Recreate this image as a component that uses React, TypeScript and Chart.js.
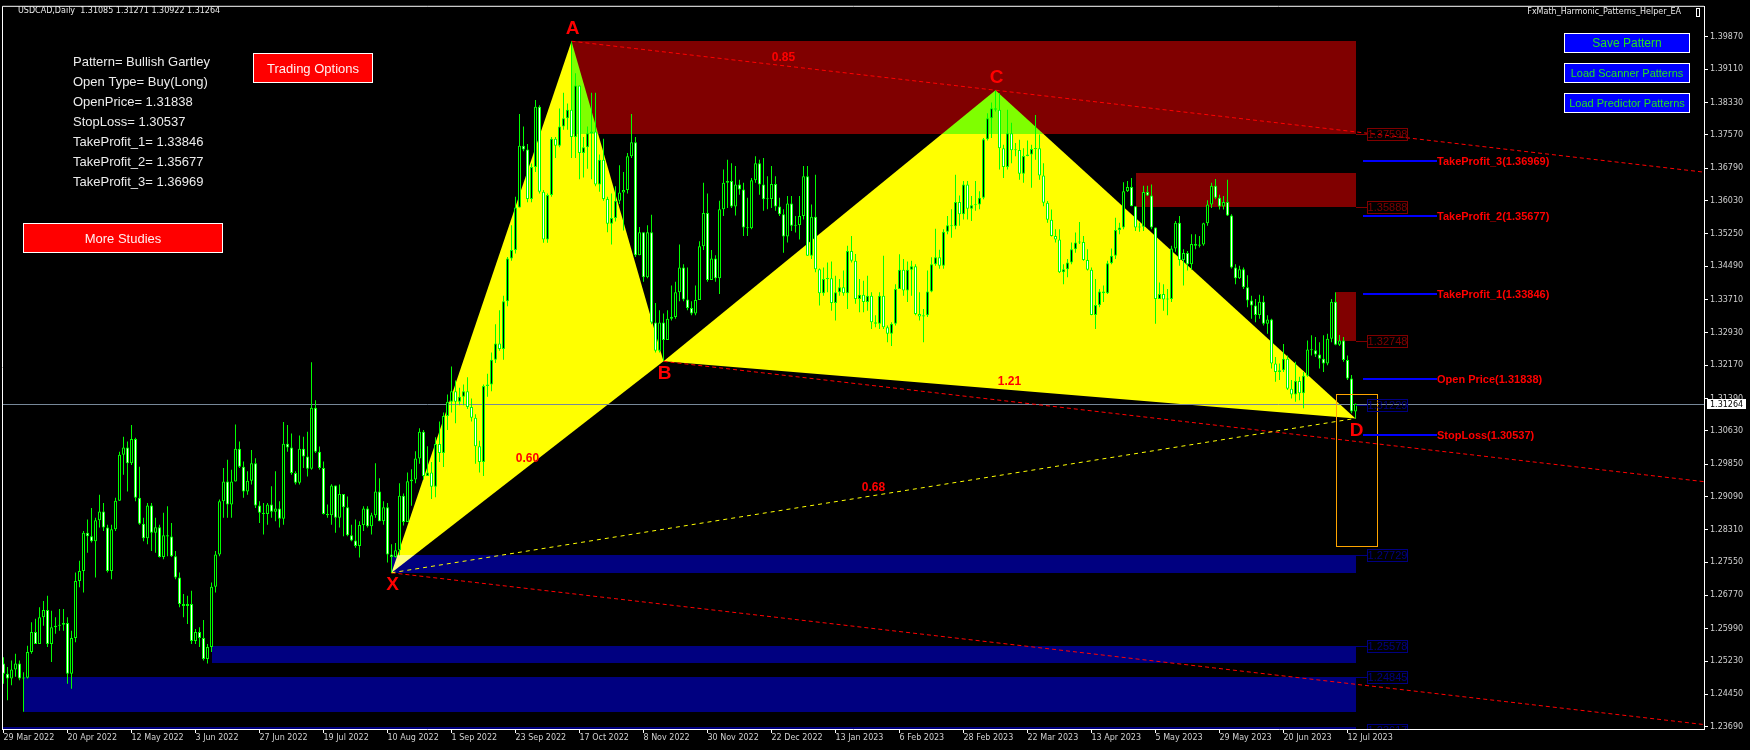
import React, { useEffect, useRef } from 'react';
import { Chart, registerables } from 'chart.js';

Chart.register(...registerables);

// ---------------- DATA ----------------
const SYMBOL = 'USDCAD,Daily';
const EA_NAME = 'FxMath_Harmonic_Patterns_Helper_EA';
const FIRST_OPEN = 1.2517;

const CLOSES = [
  1.2493,1.2482,1.2503,1.2517,1.2482,1.2484,1.2544,1.2591,1.2563,1.2626,
  1.2643,1.2563,1.2602,1.2606,1.2608,1.2612,1.2493,1.2577,1.2711,1.2734,
  1.2824,1.2816,1.2804,1.2853,1.2874,1.2836,1.2734,1.2832,1.2899,1.3007,
  1.3024,1.2987,1.3044,1.2906,1.2845,1.2811,1.2888,1.2824,1.2837,1.2767,
  1.2818,1.2815,1.2769,1.2719,1.2657,1.2652,1.2657,1.2570,1.2591,1.2577,
  1.2528,1.2556,1.2697,1.2773,1.2898,1.2944,1.2890,1.2944,1.3021,1.2979,
  1.2921,1.2946,1.2987,1.2888,1.2871,1.2868,1.2890,1.2873,1.2881,1.2857,
  1.3033,1.3024,1.2964,1.2941,1.3021,1.3003,1.2974,1.3117,1.3014,1.2976,
  1.2868,1.2865,1.2935,1.2859,1.2915,1.2884,1.2818,1.2806,1.2793,1.2842,
  1.2881,1.2839,1.2865,1.2921,1.2851,1.2884,1.2773,1.2767,1.2783,1.2911,
  1.2849,1.2945,1.2949,1.2998,1.3061,1.2957,1.2965,1.2932,1.3032,1.3011,
  1.3098,1.3131,1.3156,1.3131,1.3143,1.3156,1.3119,1.3094,1.3027,1.2990,
  1.3168,1.3172,1.3230,1.3268,1.3255,1.3367,1.3467,1.3487,1.3587,1.3732,
  1.3723,1.3607,1.3682,1.3823,1.3624,1.3512,1.3616,1.3748,1.3732,1.3777,
  1.3796,1.3816,1.3752,1.3873,1.3715,1.3728,1.3761,1.3765,1.3641,1.3699,
  1.3607,1.3549,1.3562,1.3603,1.3622,1.3628,1.3707,1.3740,1.3475,1.3529,
  1.3423,1.3529,1.3317,1.3251,1.3317,1.3276,1.3326,1.3330,1.3388,1.3446,
  1.3371,1.3351,1.3338,1.3370,1.3496,1.3574,1.3417,1.3467,1.3421,1.3583,
  1.3645,1.3649,1.3589,1.3641,1.3629,1.3540,1.3538,1.3651,1.3691,1.3641,
  1.3606,1.3607,1.3642,1.3589,1.3571,1.3519,1.3596,1.3544,1.3546,1.3567,
  1.3660,1.3474,1.3565,1.3442,1.3386,1.3419,1.3421,1.3363,1.3388,1.3400,
  1.3386,1.3485,1.3462,1.3372,1.3382,1.3365,1.3380,1.3318,1.3314,1.3380,
  1.3306,1.3291,1.3314,1.3396,1.3441,1.3392,1.3441,1.3449,1.3337,1.3331,
  1.3334,1.3390,1.3454,1.3470,1.3450,1.3530,1.3545,1.3543,1.3600,1.3571,
  1.3641,1.3584,1.3592,1.3594,1.3610,1.3747,1.3796,1.3820,1.3816,1.3726,
  1.3682,1.3761,1.3721,1.3722,1.3666,1.3708,1.3711,1.3724,1.3726,1.3662,
  1.3598,1.3558,1.3520,1.3512,1.3435,1.3442,1.3458,1.3489,1.3505,1.3506,
  1.3464,1.3441,1.3335,1.3358,1.3390,1.3386,1.3456,1.3474,1.3534,1.3540,
  1.3625,1.3635,1.3590,1.3540,1.3542,1.3623,1.3615,1.3540,1.3372,1.3384,
  1.3371,1.3372,1.3491,1.3551,1.3464,1.3480,1.3454,1.3501,1.3497,1.3500,
  1.3550,1.3594,1.3638,1.3610,1.3589,1.3600,1.3568,1.3446,1.3421,1.3442,
  1.3400,1.3369,1.3357,1.3335,1.3366,1.3314,1.3324,1.3221,1.3201,1.3205,
  1.3232,1.3162,1.3148,1.3180,1.3151,1.3192,1.3254,1.3252,1.3242,1.3232,
  1.3221,1.3279,1.3366,1.3265,1.3275,1.3229,1.3186,1.31085,1.31264,
];

const HIGHS = [
  1.2532,1.2509,1.2524,1.2540,1.2524,1.2497,1.2559,1.2614,1.2622,1.2649,
  1.2664,1.2676,1.2641,1.2626,1.2645,1.2645,1.2626,1.2594,1.2731,1.2758,
  1.2828,1.2855,1.2882,1.2859,1.2913,1.2894,1.2843,1.2843,1.2906,1.3014,
  1.3049,1.3038,1.3077,1.3047,1.2979,1.2859,1.2894,1.2894,1.2859,1.2843,
  1.2871,1.2886,1.2847,1.2781,1.2731,1.2680,1.2676,1.2688,1.2598,1.2602,
  1.2619,1.2563,1.2707,1.2781,1.2902,1.2976,1.2995,1.2972,1.3078,1.3038,
  1.2991,1.2968,1.3018,1.2999,1.2898,1.2894,1.2894,1.2933,1.2968,1.2898,
  1.3084,1.3077,1.3057,1.2968,1.3052,1.3049,1.3061,1.3224,1.3135,1.3026,
  1.2991,1.2890,1.2938,1.2917,1.2937,1.2890,1.2909,1.2843,1.2855,1.2851,
  1.2886,1.2886,1.2871,1.2987,1.2952,1.2898,1.2894,1.2797,1.2800,1.2940,
  1.2916,1.2965,1.2973,1.3015,1.3069,1.3065,1.3027,1.2990,1.3048,1.3085,
  1.3106,1.3148,1.3214,1.3181,1.3164,1.3172,1.3189,1.3139,1.3102,1.3040,
  1.3172,1.3197,1.3247,1.3313,1.3346,1.3380,1.3471,1.3545,1.3612,1.3806,
  1.3777,1.3736,1.3690,1.3839,1.3827,1.3628,1.3620,1.3752,1.3752,1.3819,
  1.3856,1.3831,1.3977,1.3902,1.3873,1.3752,1.3777,1.3856,1.3856,1.3711,
  1.3748,1.3612,1.3620,1.3637,1.3686,1.3670,1.3715,1.3806,1.3752,1.3541,
  1.3504,1.3545,1.3570,1.3363,1.3346,1.3338,1.3346,1.3404,1.3413,1.3500,
  1.3454,1.3446,1.3367,1.3404,1.3508,1.3645,1.3620,1.3487,1.3475,1.3603,
  1.3676,1.3699,1.3691,1.3684,1.3652,1.3645,1.3610,1.3656,1.3707,1.3699,
  1.3703,1.3660,1.3684,1.3660,1.3610,1.3583,1.3614,1.3614,1.3567,1.3614,
  1.3684,1.3684,1.3594,1.3664,1.3444,1.3446,1.3458,1.3460,1.3427,1.3419,
  1.3439,1.3497,1.3520,1.3478,1.3419,1.3415,1.3427,1.3388,1.3334,1.3388,
  1.3474,1.3310,1.3318,1.3407,1.3477,1.3466,1.3460,1.3462,1.3454,1.3388,
  1.3349,1.3439,1.3470,1.3537,1.3488,1.3536,1.3567,1.3583,1.3664,1.3615,
  1.3649,1.3649,1.3614,1.3649,1.3625,1.3750,1.3808,1.3833,1.3862,1.3855,
  1.3734,1.3816,1.3786,1.3738,1.3746,1.3726,1.3744,1.3734,1.3804,1.3758,
  1.3691,1.3602,1.3582,1.3536,1.3536,1.3454,1.3466,1.3505,1.3528,1.3553,
  1.3520,1.3489,1.3446,1.3419,1.3396,1.3404,1.3462,1.3491,1.3563,1.3551,
  1.3646,1.3649,1.3656,1.3590,1.3551,1.3638,1.3638,1.3641,1.3540,1.3411,
  1.3407,1.3396,1.3497,1.3555,1.3567,1.3489,1.3485,1.3524,1.3524,1.3520,
  1.3551,1.3604,1.3645,1.3654,1.3617,1.3614,1.3652,1.3571,1.3454,1.3450,
  1.3446,1.3428,1.3380,1.3372,1.3382,1.3380,1.3334,1.3326,1.3236,1.3221,
  1.3267,1.3240,1.3182,1.3225,1.3190,1.3201,1.3275,1.3287,1.3283,1.3271,
  1.3287,1.3291,1.3372,1.3388,1.3288,1.3283,1.3240,1.3194,1.31271,
];

const LOWS = [
  1.2470,1.2431,1.2466,1.2486,1.2478,1.2404,1.2482,1.2540,1.2563,1.2563,
  1.2606,1.2556,1.2521,1.2587,1.2594,1.2594,1.2470,1.2458,1.2567,1.2696,
  1.2684,1.2777,1.2801,1.2719,1.2836,1.2828,1.2731,1.2715,1.2828,1.2902,
  1.2960,1.2921,1.2983,1.2898,1.2843,1.2804,1.2797,1.2781,1.2777,1.2766,
  1.2762,1.2769,1.2767,1.2715,1.2649,1.2626,1.2610,1.2563,1.2563,1.2556,
  1.2524,1.2517,1.2544,1.2684,1.2769,1.2859,1.2859,1.2859,1.2944,1.2976,
  1.2906,1.2913,1.2937,1.2882,1.2847,1.2820,1.2843,1.2859,1.2851,1.2836,
  1.2843,1.3014,1.2960,1.2937,1.2937,1.2976,1.2956,1.2972,1.3011,1.2972,
  1.2867,1.2859,1.2843,1.2824,1.2836,1.2816,1.2816,1.2804,1.2789,1.2766,
  1.2828,1.2836,1.2820,1.2859,1.2851,1.2843,1.2754,1.2730,1.2766,1.2771,
  1.2841,1.2858,1.2887,1.2940,1.2986,1.2949,1.2957,1.2903,1.2907,1.2990,
  1.2978,1.3065,1.3106,1.3081,1.3123,1.3123,1.3114,1.3085,1.2986,1.2965,
  1.2957,1.3143,1.3156,1.3222,1.3251,1.3230,1.3355,1.3462,1.3479,1.3595,
  1.3719,1.3599,1.3599,1.3670,1.3620,1.3504,1.3504,1.3612,1.3703,1.3728,
  1.3769,1.3769,1.3703,1.3703,1.3653,1.3657,1.3678,1.3653,1.3637,1.3624,
  1.3603,1.3529,1.3500,1.3554,1.3595,1.3533,1.3620,1.3703,1.3471,1.3479,
  1.3413,1.3421,1.3313,1.3247,1.3247,1.3226,1.3276,1.3322,1.3326,1.3367,
  1.3367,1.3346,1.3334,1.3334,1.3388,1.3487,1.3413,1.3421,1.3413,1.3384,
  1.3567,1.3586,1.3586,1.3568,1.3617,1.3520,1.3520,1.3536,1.3645,1.3617,
  1.3579,1.3583,1.3586,1.3579,1.3567,1.3481,1.3505,1.3532,1.3528,1.3512,
  1.3559,1.3474,1.3466,1.3435,1.3357,1.3380,1.3388,1.3345,1.3322,1.3380,
  1.3380,1.3349,1.3458,1.3361,1.3341,1.3341,1.3345,1.3302,1.3306,1.3302,
  1.3302,1.3271,1.3262,1.3310,1.3404,1.3380,1.3365,1.3380,1.3334,1.3322,
  1.3271,1.3330,1.3388,1.3450,1.3443,1.3443,1.3524,1.3516,1.3536,1.3544,
  1.3559,1.3559,1.3555,1.3579,1.3583,1.3606,1.3744,1.3750,1.3812,1.3676,
  1.3656,1.3676,1.3691,1.3707,1.3652,1.3645,1.3707,1.3633,1.3699,1.3652,
  1.3590,1.3551,1.3519,1.3505,1.3433,1.3407,1.3423,1.3454,1.3481,1.3501,
  1.3462,1.3439,1.3334,1.3302,1.3353,1.3365,1.3384,1.3454,1.3466,1.3524,
  1.3536,1.3623,1.3590,1.3532,1.3530,1.3532,1.3614,1.3536,1.3314,1.3372,
  1.3345,1.3334,1.3365,1.3483,1.3450,1.3404,1.3439,1.3441,1.3489,1.3493,
  1.3497,1.3544,1.3586,1.3606,1.3582,1.3582,1.3567,1.3444,1.3407,1.3419,
  1.3396,1.3353,1.3326,1.3318,1.3326,1.3310,1.3291,1.3209,1.3178,1.3182,
  1.3201,1.3159,1.3139,1.3131,1.3135,1.3116,1.3190,1.3240,1.3236,1.3209,
  1.3201,1.3217,1.3271,1.3264,1.3262,1.3225,1.3182,1.3104,1.30922,
];

const X_TICK_BARS = [0,16,32,48,64,80,96,112,128,144,160,176,192,208,224,240,256,272,288,304,320,336];
const X_TICK_LABELS = [
  '29 Mar 2022','20 Apr 2022','12 May 2022','3 Jun 2022','27 Jun 2022','19 Jul 2022',
  '10 Aug 2022','1 Sep 2022','23 Sep 2022','17 Oct 2022','8 Nov 2022','30 Nov 2022',
  '22 Dec 2022','13 Jan 2023','6 Feb 2023','28 Feb 2023','22 Mar 2023','13 Apr 2023',
  '5 May 2023','29 May 2023','20 Jun 2023','12 Jul 2023',
];
const Y_TICKS = [
  1.39870,1.39110,1.38330,1.37570,1.36790,1.36030,1.35250,1.34490,1.33710,1.32930,1.32170,
  1.31390,1.30630,1.29850,1.29090,1.28310,1.27550,1.26770,1.25990,1.25230,1.24450,1.23690,
];
const Y_MIN = 1.23636;
const Y_MAX = 1.40577;
const X_MIN = -0.375;
const X_MAX = 425.125;

// Harmonic pattern points
const POINT_NAMES = ['X','A','B','C','D'];
const POINT_BARS = [97,142,165,248,338];
const POINT_PRICES = [1.2730,1.3977,1.3226,1.3862,1.30922];
const POINT_LABEL_SIDE = [1,-1,1,-1,1]; // 1 = below, -1 = above
// ratio labels: XB, AC, BD, XD
const RATIO_SEGMENTS = [[0,2],[1,3],[2,4],[0,4]];
const RATIO_TEXTS = ['0.60','0.85','1.21','0.68'];

// Supply (maroon) / demand (navy) zones
const ZONE_FROM = [142,283,333,97,52,5,-2];
const ZONE_TO = 338;
const ZONE_TOP = [1.3977,1.3668,1.3388,1.27729,1.25578,1.24845,1.23617];
const ZONE_BOTTOM = [1.37598,1.35888,1.32748,1.2730,1.2518,1.2404,1.2200];
const ZONE_KIND = ['supply','supply','supply','demand','demand','demand','demand'];

const LEVEL_TAGS = [1.37598,1.35888,1.32748,1.31229,1.27729,1.25578,1.24845,1.23617];
const LEVEL_KIND = ['supply','supply','supply','demand','demand','demand','demand','demand'];

// Trade targets
const TARGET_NAMES = ['TakeProfit_3','TakeProfit_2','TakeProfit_1','Open Price','StopLoss'];
const TARGET_PRICES = [1.36969,1.35677,1.33846,1.31838,1.30537];
const TARGET_FROM = 339.75;
const TARGET_TO = 358.25;

// D completion box
const BOX_BARS = [333,343.25];
const BOX_PRICES = [1.31493,1.27923];

const PATTERN_NAME = 'Bullish Gartley';
const OPEN_TYPE = 'Buy(Long)';

// ---------------- STYLE ----------------
const SANS = "'Liberation Sans', Arial, sans-serif";
const AXIS_FAMILY = "'DejaVu Sans', sans-serif";
const AXIS_TEXT = '#d0d0d0';
const GREEN = '#00ff00';

const OPENS = CLOSES.map((c, i) => (i === 0 ? FIRST_OPEN : CLOSES[i - 1]));

const overlayPlugin: any = {
  id: 'mt4overlay',
  beforeDraw(chart: any) {
    const ctx = chart.ctx;
    ctx.save();
    ctx.fillStyle = '#000000';
    ctx.fillRect(0, 0, chart.width, chart.height);
    ctx.restore();
  },
  beforeDatasetsDraw(chart: any) {
    const { ctx, chartArea: a, scales } = chart;
    const X = (b: number) => scales.x.getPixelForValue(b);
    const Y = (p: number) => scales.y.getPixelForValue(p);
    ctx.save();
    ctx.beginPath();
    ctx.rect(a.left, a.top, a.right - a.left, a.bottom - a.top);
    ctx.clip();
    // zones
    ZONE_TOP.forEach((top, k) => {
      const x0 = Math.round(X(ZONE_FROM[k]));
      const x1 = Math.round(X(ZONE_TO));
      const y0 = Math.round(Math.min(Y(top), a.bottom - 2));
      const y1 = Math.round(Y(ZONE_BOTTOM[k]));
      ctx.fillStyle = ZONE_KIND[k] === 'supply' ? '#800000' : '#000080';
      ctx.fillRect(x0, y0, x1 - x0, y1 - y0);
    });
    // triangles (XOR-like via difference)
    const P = POINT_BARS.map((b, i) => ({ x: X(b), y: Y(POINT_PRICES[i]) }));
    ctx.globalCompositeOperation = 'difference';
    ctx.fillStyle = '#ffff00';
    [[0, 1, 2], [2, 3, 4]].forEach((t) => {
      ctx.beginPath();
      ctx.moveTo(P[t[0]].x, P[t[0]].y);
      ctx.lineTo(P[t[1]].x, P[t[1]].y);
      ctx.lineTo(P[t[2]].x, P[t[2]].y);
      ctx.closePath();
      ctx.fill();
    });
    ctx.globalCompositeOperation = 'source-over';
    // current price line
    const lp = Math.round(Y(CLOSES[CLOSES.length - 1])) + 0.5;
    ctx.strokeStyle = '#778899';
    ctx.lineWidth = 1;
    ctx.beginPath();
    ctx.moveTo(a.left, lp);
    ctx.lineTo(a.right, lp);
    ctx.stroke();
    ctx.restore();
  },
  afterDatasetsDraw(chart: any) {
    const { ctx, chartArea: a, scales } = chart;
    const X = (b: number) => scales.x.getPixelForValue(b);
    const Y = (p: number) => scales.y.getPixelForValue(p);
    const P = POINT_BARS.map((b, i) => ({ x: X(b), y: Y(POINT_PRICES[i]) }));
    ctx.save();
    ctx.beginPath();
    ctx.rect(a.left, a.top, a.right - a.left, a.bottom - a.top);
    ctx.clip();

    // red rays parallel to A->C from X, A, B
    const dx = P[3].x - P[1].x;
    const dy = P[3].y - P[1].y;
    ctx.strokeStyle = '#ff0000';
    ctx.lineWidth = 1;
    ctx.setLineDash([4, 3]);
    [0, 1, 2].forEach((k) => {
      const t = (a.right - P[k].x) / dx;
      ctx.beginPath();
      ctx.moveTo(P[k].x, P[k].y);
      ctx.lineTo(a.right, P[k].y + t * dy);
      ctx.stroke();
    });
    // yellow dashed X->D
    ctx.strokeStyle = '#ffff00';
    ctx.setLineDash([4, 4]);
    ctx.beginPath();
    ctx.moveTo(P[0].x, P[0].y);
    ctx.lineTo(P[4].x, P[4].y);
    ctx.stroke();
    ctx.setLineDash([]);

    // ratio labels
    ctx.fillStyle = '#ff0000';
    ctx.font = `bold 12px ${SANS}`;
    ctx.textAlign = 'center';
    ctx.textBaseline = 'middle';
    RATIO_SEGMENTS.forEach((s, k) => {
      const mx = (P[s[0]].x + P[s[1]].x) / 2;
      const my = (P[s[0]].y + P[s[1]].y) / 2;
      ctx.fillText(RATIO_TEXTS[k], mx, my - 8);
    });
    // point letters
    ctx.font = `bold 19px ${SANS}`;
    POINT_NAMES.forEach((n, k) => {
      ctx.fillText(n, P[k].x + 1, P[k].y + POINT_LABEL_SIDE[k] * 12);
    });

    // D box
    ctx.strokeStyle = '#ffa500';
    ctx.lineWidth = 1;
    const bx0 = Math.round(X(BOX_BARS[0])) + 0.5;
    const bx1 = Math.round(X(BOX_BARS[1])) + 0.5;
    const by0 = Math.round(Y(BOX_PRICES[0])) + 0.5;
    const by1 = Math.round(Y(BOX_PRICES[1])) + 0.5;
    ctx.strokeRect(bx0, by0, bx1 - bx0, by1 - by0);

    // level tags
    const xr = Math.round(X(ZONE_TO));
    ctx.font = `11px ${SANS}`;
    LEVEL_TAGS.forEach((p, k) => {
      const col = LEVEL_KIND[k] === 'supply' ? '#800000' : '#000080';
      const y = Math.round(Y(p));
      ctx.strokeStyle = col;
      ctx.beginPath();
      ctx.moveTo(xr, y + 0.5);
      ctx.lineTo(xr + 11, y + 0.5);
      ctx.stroke();
      ctx.strokeRect(xr + 11.5, y - 5.5, 40, 12);
      ctx.fillStyle = col;
      ctx.textAlign = 'center';
      ctx.fillText(p.toFixed(5), xr + 31.5, y + 1);
    });

    // targets
    ctx.font = `bold 11px ${SANS}`;
    ctx.textAlign = 'left';
    TARGET_PRICES.forEach((p, k) => {
      const y = Math.round(Y(p));
      const x0 = Math.round(X(TARGET_FROM));
      const x1 = Math.round(X(TARGET_TO));
      ctx.fillStyle = '#0000ff';
      ctx.fillRect(x0, y - 1, x1 - x0, 2);
      ctx.fillStyle = '#ff0000';
      ctx.fillText(`${TARGET_NAMES[k]}(${p.toFixed(5)})`, x1, y + 1);
    });
    ctx.restore();
  },
  afterDraw(chart: any) {
    const { ctx, chartArea: a, scales } = chart;
    const Y = (p: number) => scales.y.getPixelForValue(p);
    ctx.save();
    // frame top/left
    ctx.strokeStyle = '#ffffff';
    ctx.lineWidth = 1;
    ctx.beginPath();
    ctx.moveTo(a.left + 0.5, a.bottom);
    ctx.lineTo(a.left + 0.5, a.top - 0.5);
    ctx.lineTo(a.right, a.top - 0.5);
    ctx.stroke();

    // current price tag
    const last = CLOSES[CLOSES.length - 1];
    const ly = Math.round(Y(last));
    ctx.fillStyle = '#ffffff';
    ctx.fillRect(a.right + 3, ly - 5, 39, 10);
    ctx.fillStyle = '#000000';
    ctx.font = `8px ${AXIS_FAMILY}`;
    ctx.textAlign = 'left';
    ctx.textBaseline = 'middle';
    ctx.fillText(last.toFixed(5), a.right + 6, ly + 0.5);

    // header
    const n = CLOSES.length - 1;
    ctx.fillStyle = '#e8e8e8';
    ctx.font = `8px ${AXIS_FAMILY}`;
    ctx.fillText(
      `${SYMBOL}  ${OPENS[n].toFixed(5)} ${HIGHS[n].toFixed(5)} ${LOWS[n].toFixed(5)} ${CLOSES[n].toFixed(5)}`,
      18, 11,
    );
    ctx.textAlign = 'right';
    ctx.fillText(EA_NAME, 1681, 12);
    ctx.strokeStyle = '#ffffff';
    ctx.strokeRect(1696.5, 8.5, 3, 8);

    // info panel
    const info = [
      `Pattern= ${PATTERN_NAME}`,
      `Open Type= ${OPEN_TYPE}`,
      `OpenPrice= ${TARGET_PRICES[3].toFixed(5)}`,
      `StopLoss= ${TARGET_PRICES[4].toFixed(5)}`,
      `TakeProfit_1= ${TARGET_PRICES[2].toFixed(5)}`,
      `TakeProfit_2= ${TARGET_PRICES[1].toFixed(5)}`,
      `TakeProfit_3= ${TARGET_PRICES[0].toFixed(5)}`,
    ];
    ctx.textAlign = 'left';
    ctx.fillStyle = '#ececec';
    ctx.font = `13px ${SANS}`;
    info.forEach((t, i) => ctx.fillText(t, 73, 62 + i * 20));

    const button = (x: number, y: number, w: number, h: number, fill: string, text: string, color: string, size: number) => {
      ctx.fillStyle = fill;
      ctx.fillRect(x, y, w, h);
      ctx.strokeStyle = '#ffffff';
      ctx.strokeRect(x + 0.5, y + 0.5, w - 1, h - 1);
      ctx.fillStyle = color;
      ctx.font = `${size}px ${SANS}`;
      ctx.textAlign = 'center';
      ctx.fillText(text, x + w / 2, y + h / 2 + 1);
    };
    button(253, 53, 120, 30, '#ff0000', 'Trading Options', '#fff0f0', 13);
    button(23, 223, 200, 30, '#ff0000', 'More Studies', '#fff0f0', 13);
    button(1564, 33, 126, 20, '#0000ff', 'Save Pattern', '#22e022', 12);
    button(1564, 63, 126, 20, '#0000ff', 'Load Scanner Patterns', '#22e022', 11);
    button(1564, 93, 126, 20, '#0000ff', 'Load Predictor Patterns', '#22e022', 11);
    ctx.restore();
  },
};

export default function App() {
  const ref = useRef<HTMLCanvasElement>(null);
  useEffect(() => {
    const canvas = ref.current;
    if (!canvas) return;
    const wicks = CLOSES.map((c, i) => ({
      x: i,
      y: [Math.min(LOWS[i], OPENS[i], c), Math.max(HIGHS[i], OPENS[i], c)],
    }));
    const bodies = CLOSES.map((c, i) => ({ x: i, y: [OPENS[i], c] }));
    const chart = new Chart(canvas, {
      type: 'bar',
      data: {
        datasets: [
          {
            data: bodies as any,
            order: 1,
            grouped: false,
            barPercentage: 1,
            categoryPercentage: 1,
            maxBarThickness: 3,
            backgroundColor: (c: any) => (CLOSES[c.dataIndex] >= OPENS[c.dataIndex] ? '#000000' : '#ffffff'),
            borderColor: GREEN,
            borderWidth: 1,
            borderSkipped: false,
            inflateAmount: 0,
            minBarLength: 1,
          } as any,
          {
            data: wicks as any,
            order: 2,
            grouped: false,
            barPercentage: 1,
            categoryPercentage: 1,
            maxBarThickness: 1,
            backgroundColor: GREEN,
            borderWidth: 0,
            inflateAmount: 0,
          } as any,
        ],
      },
      options: {
        responsive: false,
        maintainAspectRatio: false,
        animation: false,
        devicePixelRatio: 1,
        events: [],
        layout: { autoPadding: false, padding: { left: 2, top: 3, right: 0, bottom: 0 } },
        plugins: { legend: { display: false }, tooltip: { enabled: false } },
        scales: {
          x: {
            type: 'linear',
            min: X_MIN,
            max: X_MAX,
            offset: false,
            afterBuildTicks: (s: any) => {
              s.ticks = X_TICK_BARS.map((v) => ({ value: v }));
            },
            afterFit: (s: any) => {
              s.height = 21;
            },
            grid: { drawOnChartArea: false, drawTicks: true, tickLength: 4, color: '#ffffff', offset: false },
            border: { display: true, color: '#ffffff', width: 1 },
            ticks: {
              align: 'start',
              autoSkip: false,
              maxRotation: 0,
              minRotation: 0,
              padding: 0,
              color: AXIS_TEXT,
              font: { family: AXIS_FAMILY, size: 8 },
              callback: (_v: any, i: number) => X_TICK_LABELS[i],
            },
          },
          y: {
            type: 'linear',
            position: 'right',
            min: Y_MIN,
            max: Y_MAX,
            beginAtZero: false,
            afterBuildTicks: (s: any) => {
              s.ticks = Y_TICKS.map((v) => ({ value: v }));
            },
            afterFit: (s: any) => {
              s.width = 46;
            },
            grid: { drawOnChartArea: false, drawTicks: true, tickLength: 4, color: '#ffffff' },
            border: { display: true, color: '#ffffff', width: 1 },
            ticks: {
              autoSkip: false,
              padding: 2,
              color: AXIS_TEXT,
              font: { family: AXIS_FAMILY, size: 8 },
              callback: (v: any) => Number(v).toFixed(5),
            },
          },
        } as any,
      },
      plugins: [overlayPlugin],
    } as any);
    return () => chart.destroy();
  }, []);

  return (
    <div style={{ position: 'absolute', left: 0, top: 0, width: 1750, height: 750, background: '#000' }}>
      <canvas ref={ref} width={1750} height={750} style={{ display: 'block', width: 1750, height: 750 }} />
    </div>
  );
}
